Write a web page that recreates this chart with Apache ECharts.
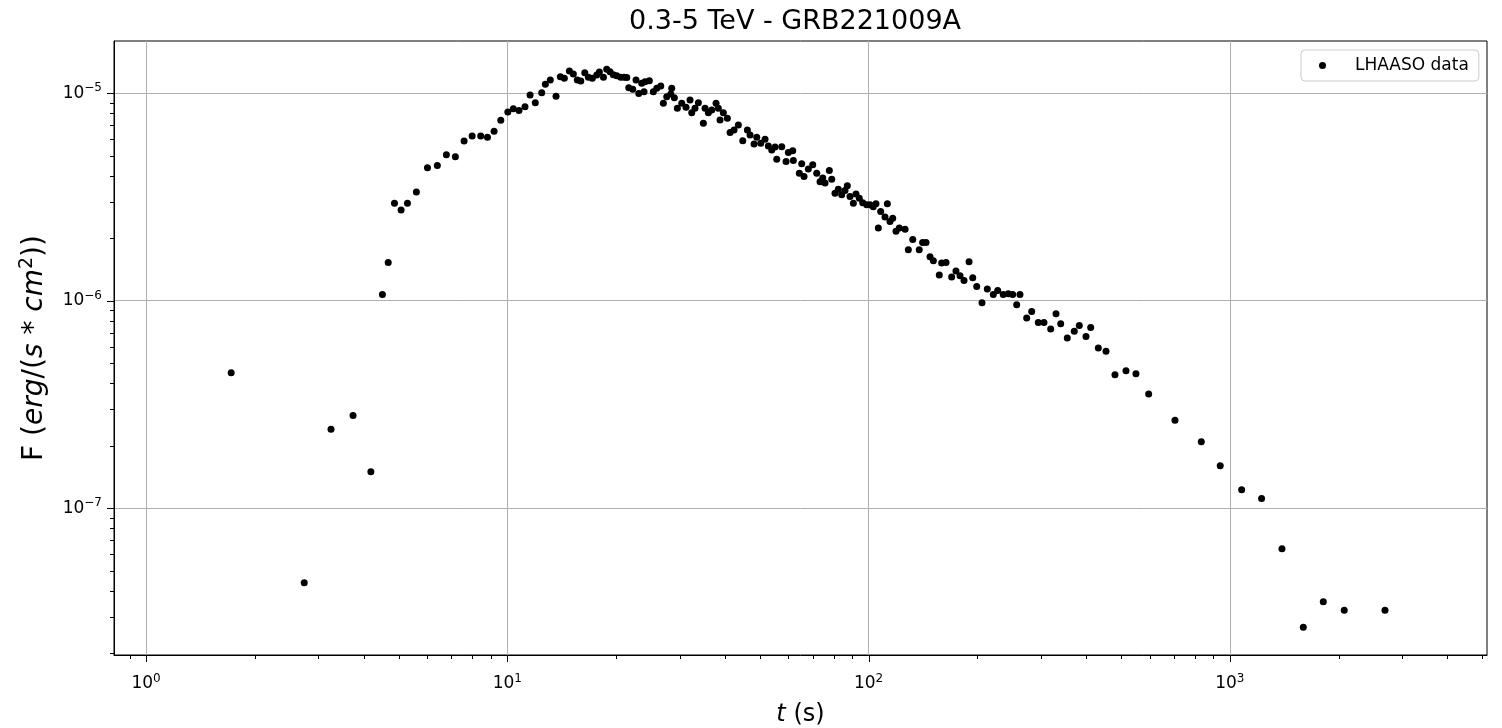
<!DOCTYPE html>
<html><head><meta charset="utf-8">
<script src="https://cdn.jsdelivr.net/npm/echarts@6/dist/echarts.min.js"></script>
<style>html,body{margin:0;padding:0;background:#fff}#c{width:1502px;height:728px}</style>
</head><body><div id="c"></div>
<script>
const titleText = '0.3-5 TeV - GRB221009A';
const seriesName = 'LHAASO data';

const times = [
  1.72, 2.74, 3.25, 3.74, 4.19, 4.51, 4.68, 4.87, 5.08, 5.29,
  5.60, 6.01, 6.40, 6.78, 7.18, 7.59, 7.99, 8.44, 8.81, 9.19,
  9.59, 10.03, 10.39, 10.77, 11.19, 11.56, 11.95, 12.45, 12.74, 13.15,
  13.64, 14.02, 14.38, 14.85, 15.23, 15.62, 15.97, 16.38, 16.76, 17.19,
  17.68, 17.98, 18.45, 18.84, 19.24, 19.65, 20.08, 20.60, 21.04, 21.41,
  21.68, 22.24, 22.71, 23.11, 23.55, 23.90, 24.05, 24.72, 25.36, 25.92,
  26.59, 27.03, 27.62, 28.34, 28.51, 28.99, 29.55, 30.39, 31.23, 32.04,
  32.39, 33.07, 33.79, 34.88, 35.26, 36.01, 36.80, 37.82, 38.37, 38.79,
  39.62, 40.64, 41.35, 42.42, 43.60, 44.84, 46.17, 46.97, 48.18, 49.02,
  50.28, 51.68, 52.78, 53.93, 55.08, 55.68, 57.49, 59.08, 59.96, 61.66,
  61.90, 64.31, 65.29, 66.26, 68.10, 70.04, 71.85, 73.37, 74.65, 75.75,
  77.85, 79.06, 80.72, 82.44, 84.24, 86.03, 87.32, 88.83, 90.74, 92.28,
  94.25, 96.31, 98.79, 100.9, 103.0, 104.8, 106.4, 108.0, 111.0, 112.7,
  114.6, 116.6, 119.1, 121.6, 126.2, 128.8, 132.5, 138.1, 141.1, 144.2,
  147.9, 151.1, 156.9, 159.3, 163.8, 169.8, 174.5, 179.1, 183.7, 189.7,
  194.2, 199.2, 206.0, 213.1, 221.4, 227.7, 235.9, 243.6, 250.5, 257.0,
  262.4, 273.9, 282.8, 294.9, 305.8, 319.2, 330.2, 340.2, 354.8, 371.0,
  383.0, 399.7, 411.9, 432.4, 454.1, 480.8, 515.8, 549.6, 596.0, 704.8,
  833.5, 940.6, 1078, 1224, 1394, 1597, 1814, 2073, 2688
];

const flux = [
  4.49e-7, 4.37e-8, 2.40e-7, 2.80e-7, 1.50e-7, 1.07e-6, 1.53e-6, 2.95e-6, 2.74e-6, 2.95e-6,
  3.34e-6, 4.37e-6, 4.48e-6, 5.06e-6, 4.94e-6, 5.89e-6, 6.23e-6, 6.23e-6, 6.14e-6, 6.56e-6,
  7.41e-6, 8.13e-6, 8.43e-6, 8.25e-6, 8.62e-6, 9.81e-6, 9.01e-6, 1.007e-5, 1.105e-5, 1.159e-5,
  9.67e-6, 1.202e-5, 1.181e-5, 1.28e-5, 1.239e-5, 1.159e-5, 1.146e-5, 1.256e-5, 1.194e-5, 1.181e-5,
  1.225e-5, 1.266e-5, 1.194e-5, 1.305e-5, 1.27e-5, 1.229e-5, 1.215e-5, 1.194e-5, 1.194e-5, 1.19e-5,
  1.064e-5, 1.045e-5, 1.159e-5, 9.96e-6, 1.117e-5, 1.018e-5, 1.137e-5, 1.15e-5, 1.018e-5, 1.057e-5,
  1.084e-5, 8.95e-6, 9.63e-6, 9.92e-6, 1.057e-5, 9.52e-6, 8.47e-6, 8.95e-6, 8.56e-6, 9.28e-6,
  8.06e-6, 8.47e-6, 9.01e-6, 7.17e-6, 8.47e-6, 8.06e-6, 8.31e-6, 8.95e-6, 8.47e-6, 7.44e-6,
  8.06e-6, 7.58e-6, 6.46e-6, 6.66e-6, 7.04e-6, 5.91e-6, 6.66e-6, 6.30e-6, 5.70e-6, 6.14e-6,
  5.74e-6, 6.01e-6, 5.57e-6, 5.33e-6, 5.50e-6, 4.81e-6, 5.53e-6, 4.69e-6, 5.18e-6, 5.29e-6,
  4.74e-6, 4.12e-6, 4.57e-6, 3.97e-6, 4.31e-6, 4.52e-6, 4.12e-6, 3.75e-6, 3.90e-6, 3.69e-6,
  4.24e-6, 3.85e-6, 3.30e-6, 3.45e-6, 3.24e-6, 3.40e-6, 3.58e-6, 3.18e-6, 2.95e-6, 3.27e-6,
  3.12e-6, 2.97e-6, 2.90e-6, 2.90e-6, 2.84e-6, 2.93e-6, 2.24e-6, 2.69e-6, 2.53e-6, 2.93e-6,
  2.41e-6, 2.50e-6, 2.16e-6, 2.24e-6, 2.21e-6, 1.76e-6, 1.97e-6, 1.76e-6, 1.91e-6, 1.91e-6,
  1.63e-6, 1.56e-6, 1.33e-6, 1.52e-6, 1.53e-6, 1.30e-6, 1.39e-6, 1.32e-6, 1.25e-6, 1.54e-6,
  1.29e-6, 1.17e-6, 9.78e-7, 1.14e-6, 1.07e-6, 1.12e-6, 1.07e-6, 1.08e-6, 1.07e-6, 9.56e-7,
  1.07e-6, 8.25e-7, 8.88e-7, 7.86e-7, 7.86e-7, 7.31e-7, 8.66e-7, 7.75e-7, 6.61e-7, 7.12e-7,
  7.60e-7, 6.73e-7, 7.43e-7, 5.92e-7, 5.70e-7, 4.40e-7, 4.60e-7, 4.44e-7, 3.55e-7, 2.65e-7,
  2.09e-7, 1.60e-7, 1.227e-7, 1.114e-7, 6.37e-8, 2.67e-8, 3.54e-8, 3.22e-8, 3.22e-8
];

const xRange = [0.815, 5150];
const yRange = [1.96e-8, 1.786e-5];
const xMajorExps = [0, 1, 2, 3];
const yMajorExps = [-7, -6, -5];
const minorMultipliers = [2, 3, 4, 5, 6, 7, 8, 9];

function minorTicks(range) {
  const out = [];
  const lo = Math.floor(Math.log10(range[0]));
  const hi = Math.ceil(Math.log10(range[1]));
  for (let e = lo; e <= hi; e++) {
    for (const m of minorMultipliers) {
      const v = m * Math.pow(10, e);
      if (v >= range[0] && v <= range[1]) out.push(v);
    }
  }
  return out;
}
const xMajor = xMajorExps.map(e => Math.pow(10, e));
const yMajor = yMajorExps.map(e => Math.pow(10, e));
const xMinor = minorTicks(xRange);
const yMinor = minorTicks(yRange);

const FONT = 'DejaVu Sans';
const labelRich = {
  b: { fontSize: 17, fontFamily: FONT, color: '#000', lineHeight: 22 },
  s: { fontSize: 12, fontFamily: FONT, color: '#000', verticalAlign: 'top', lineHeight: 12 }
};
function powLabel(v) {
  const l = Math.log10(v);
  const e = Math.round(l);
  if (Math.abs(l - e) > 1e-6) return '';
  return '{b|10}{s|' + String(e).replace('-', '\u2212') + '}';
}

function tickSeries(axis, values, len) {
  return {
    type: 'custom', silent: true, clip: false, z: 10,
    data: values.map(v => axis === 'x' ? [v, yRange[0]] : [xRange[0], v]),
    renderItem: function (params, api) {
      const cs = params.coordSys;
      const p = api.coord([api.value(0), api.value(1)]);
      if (axis === 'x') {
        const x = Math.round(p[0]) + 0.5;
        const y0 = cs.y + cs.height;
        return { type: 'line', shape: { x1: x, y1: y0, x2: x, y2: y0 + len }, style: { stroke: '#000', lineWidth: 1 } };
      }
      const y = Math.round(p[1]) + 0.5;
      return { type: 'line', shape: { x1: cs.x, y1: y, x2: cs.x - len, y2: y }, style: { stroke: '#000', lineWidth: 1 } };
    }
  };
}

const chart = echarts.init(document.getElementById('c'), null, { renderer: 'canvas' });
chart.setOption({
  animation: false,
  backgroundColor: '#fff',
  title: {
    text: titleText, left: 790, top: 3, textAlign: 'center',
    textStyle: { fontSize: 27, fontWeight: 'normal', fontFamily: FONT, color: '#000' }
  },
  legend: {
    left: 1301, top: 50,
    data: [{ name: seriesName, icon: 'circle' }],
    itemWidth: 7, itemHeight: 7,
    formatter: '{t|{name}}',
    backgroundColor: 'rgba(255,255,255,0.8)', borderColor: '#cccccc', borderWidth: 1, borderRadius: 4,
    padding: [7, 10, 7, 18],
    textStyle: { fontSize: 17, fontFamily: FONT, color: '#000',
      rich: { t: { fontSize: 17, fontFamily: FONT, color: '#000', padding: [0, 0, 0, 24] } } }
  },
  grid: { left: 114, right: 15, top: 41, bottom: 73, show: true, borderColor: '#000', borderWidth: 1,
    containLabel: false, outerBoundsMode: 'none' },
  xAxis: {
    type: 'log', logBase: 10, min: xRange[0], max: xRange[1],
    axisLine: { show: true, lineStyle: { color: '#000', width: 1 } },
    axisTick: { show: false },
    splitLine: { show: true, showMinLine: false, showMaxLine: false, lineStyle: { color: '#b0b0b0', width: 1 } },
    axisLabel: { formatter: powLabel, rich: labelRich, margin: 18, showMinLabel: false, showMaxLabel: false },
    name: '{i|t} (s)', nameLocation: 'middle', nameGap: 48,
    nameTextStyle: { fontSize: 24, fontFamily: FONT, color: '#000', rich: { i: { fontSize: 24, fontFamily: FONT, fontStyle: 'italic', color: '#000' } } }
  },
  yAxis: {
    type: 'log', logBase: 10, min: yRange[0], max: yRange[1],
    axisLine: { show: true, lineStyle: { color: '#000', width: 1 } },
    axisTick: { show: false },
    splitLine: { show: true, showMinLine: false, showMaxLine: false, lineStyle: { color: '#b0b0b0', width: 1 } },
    axisLabel: { formatter: powLabel, rich: labelRich, margin: 12, showMinLabel: false, showMaxLabel: false },
    name: 'F ({i|erg}/({i|s} * {i|cm}{sup|2}))', nameLocation: 'middle', nameGap: 62, nameRotate: 90,
    nameTextStyle: {
      fontSize: 28, fontFamily: FONT, color: '#000',
      rich: {
        i: { fontSize: 28, fontFamily: FONT, fontStyle: 'italic', color: '#000', lineHeight: 34 },
        sup: { fontSize: 19, fontFamily: FONT, color: '#000', verticalAlign: 'top', lineHeight: 19 }
      }
    }
  },
  series: [
    {
      name: seriesName, type: 'scatter', symbol: 'circle', symbolSize: 7,
      itemStyle: { color: '#000', opacity: 1 }, z: 3,
      data: times.map((t, i) => [t, flux[i]])
    },
    tickSeries('x', xMajor, 7),
    tickSeries('x', xMinor, 4),
    tickSeries('y', yMajor, 7),
    tickSeries('y', yMinor, 4)
  ]
});
</script>
</body></html>
